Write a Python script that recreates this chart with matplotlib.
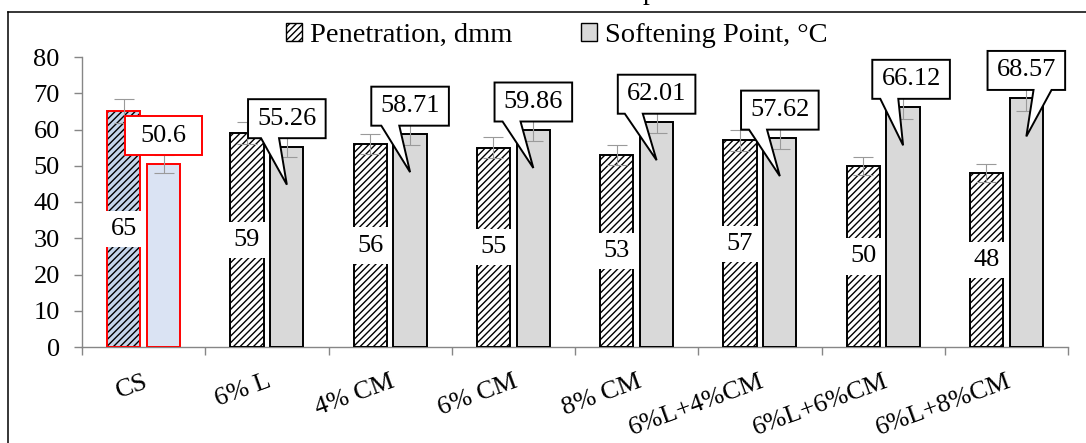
import matplotlib
matplotlib.use("Agg")
import matplotlib.pyplot as plt
from matplotlib.lines import Line2D
from matplotlib.patches import Patch, Polygon
from matplotlib.transforms import ScaledTranslation, IdentityTransform
import numpy as np

CATEGORIES = ["CS", "6% L", "4% CM", "6% CM", "8% CM", "6%L+4%CM", "6%L+6%CM", "6%L+8%CM"]
PENETRATION = [65, 59, 56, 55, 53, 57, 50, 48]
PENETRATION_ERR = [3.3, 3.0, 2.8, 2.8, 2.7, 2.9, 2.5, 2.4]
SOFTENING = [50.6, 55.26, 58.71, 59.86, 62.01, 57.62, 66.12, 68.57]
SOFTENING_ERR = [2.5, 2.8, 2.9, 3.0, 3.1, 2.9, 3.3, 3.4]
LEGEND_LABELS = ["Penetration, dmm", "Softening Point, \u00b0C"]
Y_TICKS = [0, 10, 20, 30, 40, 50, 60, 70, 80]

plt.rcParams["font.family"] = ["Liberation Serif", "DejaVu Serif"]
plt.rcParams["hatch.linewidth"] = 1.0

AXIS_GREY = "#868686"
GREY_FILL = "#d9d9d9"
CS_HATCH_FILL = "#c5d5ea"
CS_FILL = "#dae3f3"
FS = 19
HATCH = "/////"

W, H = 1086, 443
fig = plt.figure(figsize=(W / 100, H / 100), dpi=100)
ax = fig.add_axes([82 / W, 1 - 347 / H, (1068 - 82) / W, 290 / H])

x = np.arange(len(CATEGORIES))
off = 0.162
bw = 0.27

ax.set_xlim(-0.5, len(x) - 0.5)
ax.set_ylim(0, 80)

# penetration bars: hatch layer, then outline layer
pen_fill = [CS_HATCH_FILL] + ["white"] * (len(x) - 1)
pen_edge = ["red"] + ["black"] * (len(x) - 1)
ax.bar(x - off, PENETRATION, bw, color=pen_fill, edgecolor="black", hatch=HATCH, linewidth=0, zorder=2)
ax.bar(x - off, PENETRATION, bw, fill=False, edgecolor=pen_edge, linewidth=1.4, zorder=3)

soft_fill = [CS_FILL] + [GREY_FILL] * (len(x) - 1)
ax.bar(x + off, SOFTENING, bw, color=soft_fill, edgecolor=pen_edge, linewidth=1.4, zorder=3)

ax.errorbar(x - off, PENETRATION, yerr=PENETRATION_ERR, fmt="none", ecolor="#9a9a9a",
            elinewidth=0.8, capsize=7.5, capthick=0.8, zorder=4)
ax.errorbar(x + off, SOFTENING, yerr=SOFTENING_ERR, fmt="none", ecolor="#9a9a9a",
            elinewidth=0.8, capsize=7.5, capthick=0.8, zorder=4)

# penetration value labels at half height on white
for xi, v in zip(x, PENETRATION):
    ax.text(xi - off, v / 2, f"{v}", ha="center", va="center", fontsize=FS, zorder=5,
            bbox=dict(boxstyle="square,pad=0.27", fc="white", ec="none"))

# softening value callouts (pixel geometry, box + wedge as one outline)
BOX_HW, BOX_HH = 38.8, 19.5
BOX_UP, TIP_DOWN = 28, 38
WEDGE_W = 18
box_dx = [0, 0, 0, 0, 0, 0, 8, 0]
wedge_start = [None, 13, 10, 8, 7, 8, 8, 46]
for i, v in enumerate(SOFTENING):
    px, py = ax.transData.transform((x[i] + off, v))
    cx, cy = px + box_dx[i], py + BOX_UP
    verts = [(-BOX_HW, BOX_HH), (BOX_HW, BOX_HH), (BOX_HW, -BOX_HH)]
    if wedge_start[i] is not None:
        b0 = -BOX_HW + wedge_start[i]
        verts += [(b0 + WEDGE_W, -BOX_HH), (px - cx, py - TIP_DOWN - cy), (b0, -BOX_HH)]
    verts += [(-BOX_HW, -BOX_HH)]
    edge = "red" if i == 0 else "black"
    poly = Polygon(np.array(verts) + (cx, cy), closed=True, fc="white", ec=edge, lw=1.4,
                   transform=IdentityTransform(), zorder=6, clip_on=False)
    ax.add_patch(poly)
    ax.text(cx, cy, f"{v:g}", ha="center", va="center", fontsize=FS, zorder=7,
            transform=IdentityTransform(), clip_on=False)

ax.set_yticks(Y_TICKS)
ax.set_xticks(x)
ax.set_xticklabels(CATEGORIES, rotation=20, ha="right", rotation_mode="anchor")
ax.set_xticks(np.arange(-0.5, len(x), 1), minor=True)
shift = ScaledTranslation(-10 / 100, 0, fig.dpi_scale_trans)
for lab in ax.get_xticklabels():
    lab.set_transform(lab.get_transform() + shift)

for side in ["top", "right"]:
    ax.spines[side].set_visible(False)
for side in ["left", "bottom"]:
    ax.spines[side].set_color(AXIS_GREY)
    ax.spines[side].set_linewidth(1.0)

ax.tick_params(axis="y", length=6, width=1, color=AXIS_GREY, pad=10, labelsize=FS)
ax.tick_params(axis="x", which="major", length=0, pad=17, labelsize=FS)
ax.tick_params(axis="x", which="minor", length=6, width=1, color=AXIS_GREY)

handles = [Patch(facecolor="white", edgecolor="black", hatch=HATCH, linewidth=1),
           Patch(facecolor=GREY_FILL, edgecolor="black", linewidth=1)]
fig.legend(handles, LEGEND_LABELS, loc="center", bbox_to_anchor=(557 / W, 1 - 35.5 / H),
           ncol=2, frameon=False, fontsize=20.5, handlelength=0.55, handleheight=0.55,
           handletextpad=0.3, columnspacing=2.4, borderaxespad=0)

# outer frame (left and top edges) and clipped title fragment
fig.add_artist(Line2D([8 / W, 8 / W], [0, 1 - 12 / H], transform=fig.transFigure, color="black", lw=1.1))
fig.add_artist(Line2D([8 / W, 1], [1 - 12 / H, 1 - 12 / H], transform=fig.transFigure, color="black", lw=1.1))
fig.text(650 / W, 1 + 1 / H, "p", fontsize=20, ha="center", va="baseline")

fig.savefig("out.png", dpi=100)
